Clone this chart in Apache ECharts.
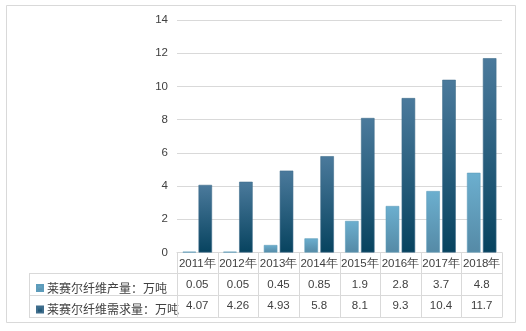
<!DOCTYPE html>
<html>
<head>
<meta charset="utf-8">
<script src="https://cdn.jsdelivr.net/npm/echarts@6/dist/echarts.min.js"></script>
<style>
html,body{margin:0;padding:0;background:#fff}
#c{width:526px;height:331px}
</style>
</head>
<body>
<div id="c"></div>
<script>
// Lyocell fibre output vs. demand, 2011-2018 (10k tonnes)
const years = ['2011年', '2012年', '2013年', '2014年', '2015年', '2016年', '2017年', '2018年'];
const production = [0.05, 0.05, 0.45, 0.85, 1.9, 2.8, 3.7, 4.8];
const demand = [4.07, 4.26, 4.93, 5.8, 8.1, 9.3, 10.4, 11.7];
const seriesNames = ['莱赛尔纤维产量：万吨', '莱赛尔纤维需求量：万吨'];
const yMin = 0, yMax = 14, yStep = 2;

const LINE = '#d9d9d9';
const TEXT = '#404040';
const NUM_FONT = '"Liberation Sans", Arial, sans-serif';
const CJK_FONT = '"Noto Sans CJK SC", sans-serif';

const lightFill = new echarts.graphic.LinearGradient(0, 0, 0, 1, [
  { offset: 0, color: '#6cafcf' },
  { offset: 1, color: '#558aa6' }
]);
const darkFill = new echarts.graphic.LinearGradient(0, 0, 0, 1, [
  { offset: 0, color: '#4b7a9c' },
  { offset: 1, color: '#07435f' }
]);

// Data table under the category axis: header row is the axis labels,
// the two value rows plus the series-name column are drawn here.
const ROW_H = [20.5, 22, 21.5];
const NAME_COL_W = 148;

function px(v) { return Math.round(v) + 0.5; }

function renderTable(params, api) {
  const i = api.value(0);
  const base = api.coord([i, 0]);
  const bw = api.size([1, 0])[0];
  const x0 = base[0] - bw / 2;
  const x1 = base[0] + bw / 2;
  const yTop = base[1];
  const y1 = yTop + ROW_H[0];
  const y2 = y1 + ROW_H[1];
  const y3 = y2 + ROW_H[2];
  const st = { stroke: LINE, lineWidth: 1 };
  const kids = [];
  const line = (ax, ay, bx, by) => kids.push({
    type: 'line', shape: { x1: ax, y1: ay, x2: bx, y2: by }, style: st, silent: true
  });
  // left border of this column
  line(px(x0), yTop, px(x0), px(y3));
  if (i === years.length - 1) line(px(x1), yTop, px(x1), px(y3));
  // row separators
  const left = (i === 0) ? x0 - NAME_COL_W : x0;
  line(left, px(y1), x1, px(y1));
  line(left, px(y2), x1, px(y2));
  line(left, px(y3), x1, px(y3));
  if (i === 0) line(px(x0 - NAME_COL_W), px(y1), px(x0 - NAME_COL_W), px(y3));
  // values
  const vals = [api.value(1), api.value(2)];
  const mids = [(y1 + y2) / 2, (y2 + y3) / 2];
  vals.forEach((v, k) => kids.push({
    type: 'text', silent: true,
    style: {
      text: String(v), x: base[0], y: mids[k] + 0.5,
      align: 'center', verticalAlign: 'middle',
      fill: TEXT, font: '11.5px ' + NUM_FONT
    }
  }));
  return { type: 'group', children: kids };
}

const chart = echarts.init(document.getElementById('c'), null, { renderer: 'canvas' });
chart.setOption({
  animation: false,
  backgroundColor: '#fff',
  graphic: [{
    type: 'rect', silent: true,
    shape: { x: 6.5, y: 5.5, width: 509, height: 317 },
    style: { fill: 'none', stroke: LINE, lineWidth: 1 }
  }],
  legend: [
    {
      data: [seriesNames[0]], orient: 'vertical', left: 31, top: 277,
      itemWidth: 6, itemHeight: 6, icon: 'rect', selectedMode: false,
      textStyle: { fontFamily: CJK_FONT, fontSize: 12, color: TEXT, padding: [0, 0, 0, -1] }
    },
    {
      data: [seriesNames[1]], orient: 'vertical', left: 31, top: 298.5,
      itemWidth: 6, itemHeight: 6, icon: 'rect', selectedMode: false,
      textStyle: { fontFamily: CJK_FONT, fontSize: 12, color: TEXT, padding: [0, 0, 0, -1] }
    }
  ],
  grid: { left: 177, right: 24, top: 20, bottom: 78.5, containLabel: false },
  xAxis: {
    type: 'category',
    data: years,
    axisLine: { show: true, lineStyle: { color: LINE, width: 1 } },
    axisTick: { show: false },
    axisLabel: {
      interval: 0, margin: 5, color: TEXT,
      fontFamily: NUM_FONT, fontSize: 11.5
    },
    splitLine: { show: false }
  },
  yAxis: {
    type: 'value',
    min: yMin, max: yMax, interval: yStep,
    axisLine: { show: false },
    axisTick: { show: false },
    axisLabel: { margin: 9, color: TEXT, fontFamily: NUM_FONT, fontSize: 11.5 },
    splitLine: { lineStyle: { color: LINE, width: 1 } }
  },
  series: [
    {
      name: seriesNames[0], type: 'bar', data: production,
      barWidth: 13.5, barGap: '18%',
      itemStyle: { color: lightFill, borderColor: '#5d9cbb', borderWidth: 0.6 }
    },
    {
      name: seriesNames[1], type: 'bar', data: demand,
      barWidth: 13.5, barGap: '18%',
      itemStyle: { color: darkFill, borderColor: '#3f6d8c', borderWidth: 0.6 }
    },
    {
      type: 'custom', name: 'table', clip: false, silent: true,
      renderItem: renderTable,
      encode: { x: 0, y: 1 },
      data: years.map((y, i) => [i, production[i], demand[i]]),
      z: 5
    }
  ]
});
</script>
</body>
</html>
